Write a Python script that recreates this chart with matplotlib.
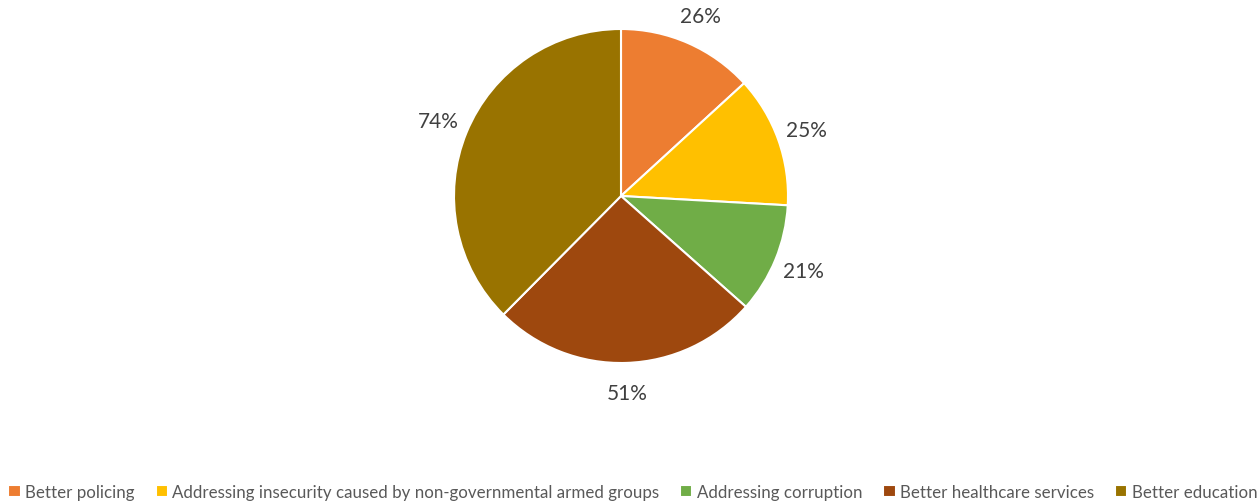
import matplotlib.pyplot as plt

plt.rcParams['font.family'] = ['Lato', 'DejaVu Sans']

categories = ["Better policing",
              "Addressing insecurity caused by non-governmental armed groups",
              "Addressing corruption",
              "Better healthcare services",
              "Better education"]
values = [26, 25, 21, 51, 74]
labels = ["26%", "25%", "21%", "51%", "74%"]
colors = ["#ED7D31", "#FFC000", "#70AD47", "#9E480E", "#997300"]

fig = plt.figure(figsize=(12.58, 5.02), dpi=100)
W, H = 1258, 502
cx, cy, r = 621, 197, 167
ax = fig.add_axes([(cx - r) / W, (H - cy - r) / H, 2 * r / W, 2 * r / H])

wedges, texts = ax.pie(values, labels=labels, colors=colors, startangle=90,
                       counterclock=False, labeldistance=1.18,
                       wedgeprops=dict(edgecolor="white", linewidth=1.5),
                       textprops=dict(fontsize=15, color="#404040"))
# labels centred on their anchor point, like the original
for t in texts:
    t.set_ha("center")
ax.set_xlim(-1, 1)
ax.set_ylim(-1, 1)
ax.set_aspect("equal")

leg = fig.legend(wedges, categories, loc="lower left", bbox_to_anchor=(0.006, 0.0),
                 ncol=5, frameon=False, fontsize=12.2, handlelength=0.72,
                 handleheight=0.72, handletextpad=0.25, columnspacing=1.25,
                 borderaxespad=0.0, borderpad=0.05)
for t in leg.get_texts():
    t.set_color("#595959")

fig.savefig("out.png", dpi=100)
